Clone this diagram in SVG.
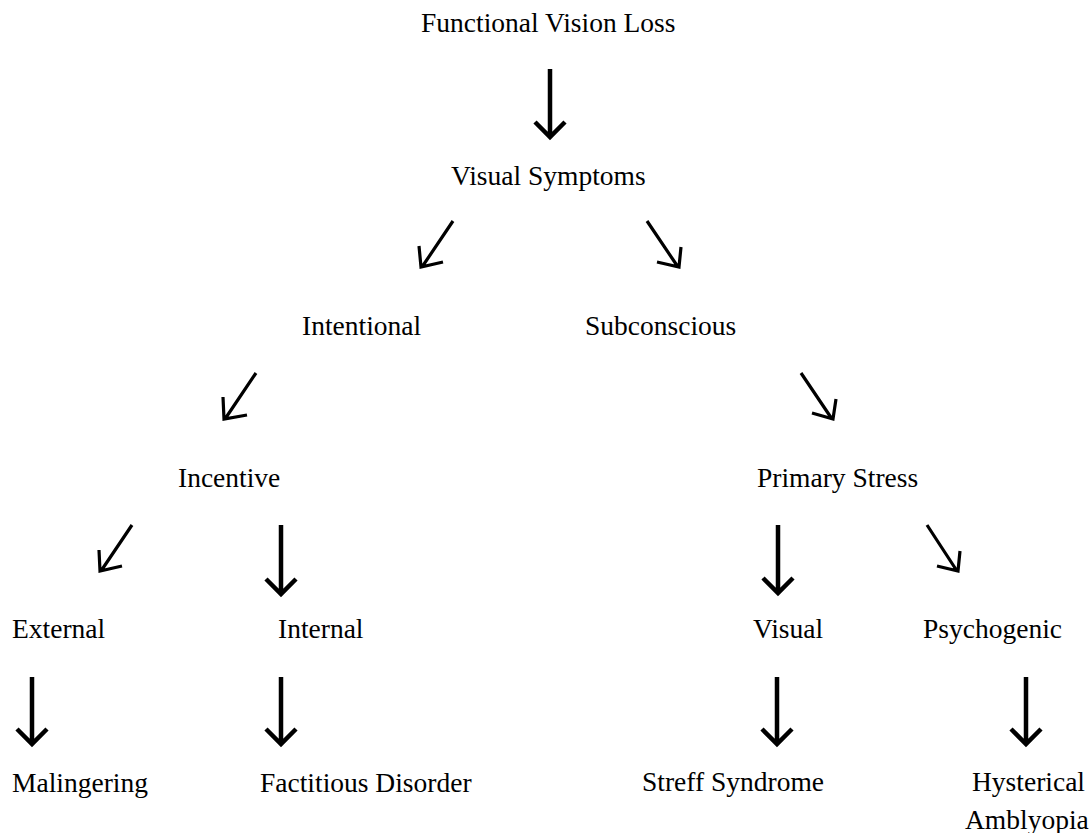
<svg xmlns="http://www.w3.org/2000/svg" width="1091" height="833" viewBox="0 0 1091 833">
<style>
.t{font-family:"Liberation Serif","Times New Roman",serif;font-size:27.5px;fill:#000}
.v{fill:none;stroke:#000;stroke-width:4.5;stroke-linejoin:miter;stroke-miterlimit:10}
.d{fill:none;stroke:#000;stroke-width:3.2;stroke-linejoin:miter;stroke-miterlimit:10}
</style>
<rect width="1091" height="833" fill="#fff"/>
<g id="connectors">
<path class="v" d="M550 69V138M535 122L550 137L565 122"/>
<path class="v" d="M281 525V595M266 579L281 594L296 579"/>
<path class="v" d="M778 525V594M763 578L778 593L793 578"/>
<path class="v" d="M32 677V745M17 729L32 744L47 729"/>
<path class="v" d="M281 677V745M266 729L281 744L296 729"/>
<path class="v" d="M777 677V745M762 729L777 744L792 729"/>
<path class="v" d="M1026 677V745M1011 729L1026 744L1041 729"/>
<path class="d" d="M453 221L422 267M419 246L421 267L443 262"/>
<path class="d" d="M647 221L678 267M681 247L679 267L657 262"/>
<path class="d" d="M256 373L225 419M223 397L224 419L247 415"/>
<path class="d" d="M801 373L832 419M836 399L833 419L812 413"/>
<path class="d" d="M132 525L101 571M99 550L100 571L122 566"/>
<path class="d" d="M927 525L957 571M960 551L958 571L937 566"/>
</g>
<g id="n-fvl"><text class="t" x="421" y="32">Functional Vision Loss</text></g>
<g id="n-vs"><text class="t" x="451" y="185">Visual Symptoms</text></g>
<g id="n-intentional"><text class="t" x="302" y="335">Intentional</text></g>
<g id="n-subconscious"><text class="t" x="585" y="335">Subconscious</text></g>
<g id="n-incentive"><text class="t" x="178" y="487">Incentive</text></g>
<g id="n-primary"><text class="t" x="757" y="487">Primary Stress</text></g>
<g id="n-external"><text class="t" x="12" y="638">External</text></g>
<g id="n-internal"><text class="t" x="278" y="638">Internal</text></g>
<g id="n-visual"><text class="t" x="753" y="638">Visual</text></g>
<g id="n-psychogenic"><text class="t" x="923" y="638">Psychogenic</text></g>
<g id="n-malingering"><text class="t" x="12" y="792">Malingering</text></g>
<g id="n-factitious"><text class="t" x="260" y="792">Factitious Disorder</text></g>
<g id="n-streff"><text class="t" x="642" y="791">Streff Syndrome</text></g>
<g id="n-hysterical"><text class="t" x="972" y="791">Hysterical</text><text class="t" x="965" y="829">Amblyopia</text></g>
</svg>
